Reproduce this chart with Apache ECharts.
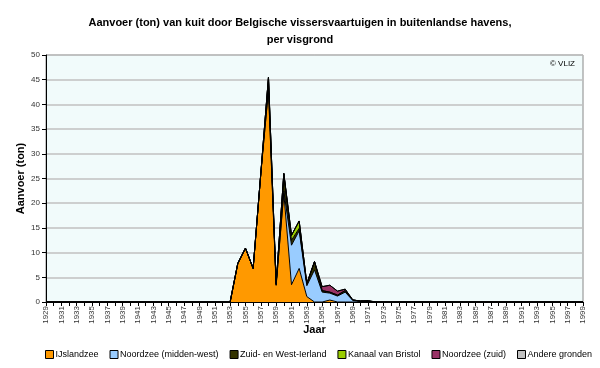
<!DOCTYPE html>
<html>
<head>
<meta charset="utf-8">
<script src="https://cdn.jsdelivr.net/npm/echarts@6/dist/echarts.min.js"></script>
<style>html,body{margin:0;padding:0;background:#fff}#c{width:600px;height:368px}</style>
</head>
<body>
<div id="c"></div>
<script>
var years = [];
for (var y = 1929; y <= 1999; y++) years.push(String(y));

// values per year starting at 1953 (earlier years are 0)
var startYear = 1953;
var ijslandzee     = [0, 7.8, 10.9, 6.8, 26, 43, 3.4, 22, 3.5, 6.8, 1.1, 0, 0, 0.4, 0, 0, 0, 0, 0, 0];
var noordzeeMW     = [0, 0, 0, 0, 0, 0, 0, 0.5, 8, 7.6, 2.2, 6.5, 2.0, 1.4, 1.2, 2.0, 0.3, 0.1, 0, 0];
var zuidWestIer    = [0, 0, 0, 0, 0, 2.5, 0.3, 3.5, 1, 0.5, 0.4, 1.7, 0.3, 0.2, 0.2, 0.3, 0.1, 0.1, 0.2, 0];
var kanaalBristol  = [0, 0, 0, 0, 0, 0, 0, 0, 1.0, 1.5, 0, 0, 0, 0, 0, 0, 0, 0, 0, 0];
var noordzeeZuid   = [0, 0, 0, 0, 0, 0, 0, 0, 0, 0, 0, 0, 0.8, 1.4, 0.8, 0.3, 0, 0, 0, 0];
var andereGronden  = [0, 0, 0, 0, 0, 0, 0, 0, 0, 0, 0, 0, 0, 0, 0, 0, 0, 0, 0.1, 0];

var names = ['IJslandzee', 'Noordzee (midden-west)', 'Zuid- en West-Ierland', 'Kanaal van Bristol', 'Noordzee (zuid)', 'Andere gronden'];
var colors = ['#FF9900', '#99CCFF', '#333300', '#99CC00', '#993366', '#C0C0C0'];
var sets = [ijslandzee, noordzeeMW, zuidWestIer, kanaalBristol, noordzeeZuid, andereGronden];

function full(arr) {
  return years.map(function (yr) {
    var i = +yr - startYear;
    return (i >= 0 && i < arr.length) ? arr[i] : 0;
  });
}

var font = '"Liberation Sans", Arial, sans-serif';

var series = sets.map(function (arr, k) {
  return {
    name: names[k],
    type: 'line',
    stack: 'total',
    symbol: 'none',
    data: full(arr),
    lineStyle: { color: '#000', width: 1 },
    itemStyle: { color: colors[k] },
    areaStyle: { color: colors[k], opacity: 1 },
    emphasis: { disabled: true },
    animation: false
  };
});

var chart = echarts.init(document.getElementById('c'));
chart.setOption({
  animation: false,
  title: [{
    text: 'Aanvoer (ton) van kuit door Belgische vissersvaartuigen in buitenlandse havens,\nper visgrond',
    left: 295, top: 9, textAlign: 'center',
    textStyle: { fontFamily: font, fontWeight: 'bold', fontSize: 11, lineHeight: 17, color: '#000' }
  }, {
    text: '© VLIZ', right: 20, top: 55,
    textStyle: { fontFamily: font, fontWeight: 'normal', fontSize: 8, color: '#000' }
  }],
  grid: { left: 46, right: 17, top: 55, bottom: 66, show: true, backgroundColor: '#F1FBFB', borderColor: '#888', borderWidth: 1 },
  xAxis: {
    type: 'category', data: years, boundaryGap: false,
    name: 'Jaar', nameLocation: 'middle', nameGap: 22, nameMoveOverlap: false,
    nameTextStyle: { fontFamily: font, fontWeight: 'bold', fontSize: 11, color: '#000' },
    axisLine: { lineStyle: { color: '#000', width: 1 } },
    axisTick: { interval: 0, length: 4, lineStyle: { color: '#000' } },
    axisLabel: { interval: 1, rotate: 90, fontFamily: font, fontSize: 8, color: '#333', margin: 4 },
    splitLine: { show: false }
  },
  yAxis: {
    type: 'value', min: 0, max: 50, interval: 5,
    name: 'Aanvoer (ton)', nameLocation: 'middle', nameGap: 20, nameMoveOverlap: false,
    nameTextStyle: { fontFamily: font, fontWeight: 'bold', fontSize: 11, color: '#000' },
    axisLine: { show: true, lineStyle: { color: '#000', width: 1 } },
    axisTick: { show: true, length: 4, lineStyle: { color: '#000' } },
    axisLabel: { fontFamily: font, fontSize: 8, color: '#333', margin: 6 },
    splitLine: { lineStyle: { color: '#C0C0C0', width: 1.5 } }
  },
  legend: {
    data: names, bottom: 4, left: 40,
    itemWidth: 8, itemHeight: 8, itemGap: 11,
    icon: 'rect',
    itemStyle: { borderColor: '#000', borderWidth: 1 },
    textStyle: { fontFamily: font, fontSize: 9, color: '#000', padding: [0, 0, 0, -3] }
  },
  series: series
});
</script>
</body>
</html>
